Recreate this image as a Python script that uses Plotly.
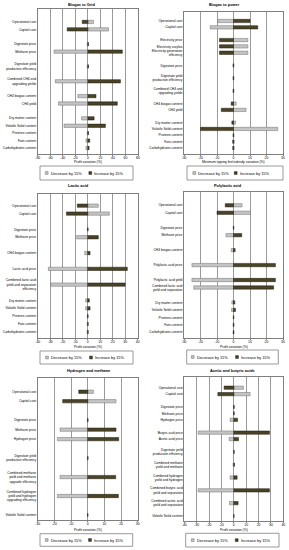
import plotly.graph_objects as go

W, H = 289, 550
FONT = "Arial, Liberation Sans, sans-serif"

# ---------------- data ----------------
GRID_CATS = ["Operational cost", "Capital cost", None, "Digestate price", "Methane price", None,
             "Digestate yield<br>production efficiency", None, "Combined CH4 and<br>upgrading yields", None,
             "CH4 biogas content", "CH4 yield", None, "Dry matter content", "Volatile Solid content",
             "Proteins content", "Fats content", "Carbohydrates content"]
GRID_DEC = [9, 33, None, -1, -54, None, -1, None, -52, None, -16, -47, None, -10, -38, -1, -3, -3]
GRID_INC = [-9, -33, None, 1, 55, None, 1, None, 52, None, 13, 47, None, 10, 28, 1, 3, 2]
GRID_TICKS = [-80, -60, -40, -20, 0, 20, 40, 60, 80]

POWER_CATS = ["Operational cost", "Capital cost", None, "Electricity price", "Electricity surplus",
              "Electricity generation<br>efficiency", None, "Digestate price", None,
              "Digestate yield<br>production efficiency", None, "Combined CH4 and<br>upgrading yields", None,
              "CH4 biogas content", "CH4 yield", None, "Dry matter content", "Volatile Solid content",
              "Proteins content", "Fats content", "Carbohydrates content"]
POWER_DEC = [-9.5, -14.1, None, 8.7, 8.7, 8.7, None, 0.3, None, 0.3, None, 0.3, None,
             1.6, 7.6, None, 1.2, 26.8, 0.3, 0.5, 0.5]
POWER_INC = [10, 14.7, None, -8.5, -8.5, -8.5, None, -0.3, None, -0.3, None, -0.3, None,
             -1.4, -7.4, None, -1.0, -20, -0.3, -0.5, -0.5]
POWER_TICKS = [-30, -20, -10, 0, 10, 20, 30]

LACTIC_CATS = ["Operational cost", "Capital cost", None, "Digestate price", "Methane price", None,
               "CH4 biogas content", None, "Lactic acid price", None,
               "Combined lactic acid<br>yield and separation<br>efficiency", None, "Dry matter content",
               "Volatile Solid content", "Proteins content", "Fats content", "Carbohydrates content"]
LACTIC_DEC = [8.5, 17.3, None, -0.3, -8.8, None, -2.4, None, -31.5, None, -29.6, None,
              -1.6, -1.6, -0.3, -0.4, -0.4]
LACTIC_INC = [-8.3, -17, None, 0.3, 8.5, None, 1.9, None, 31.7, None, 29.9, None,
              1.3, 1.9, 0.3, 0.4, 0.4]
LACTIC_TICKS = [-40, -30, -20, -10, 0, 10, 20, 30, 40]

PLA_CATS = ["Operational cost", "Capital cost", None, "Digestate price", "Methane price", None,
            "CH4 biogas content", None, "Polylactic acid price", None, "Polylactic acid yield",
            "Combined lactic acid<br>yield and separation", None, "Dry matter content",
            "Volatile Solid content", "Proteins content", "Fats content", "Carbohydrates content"]
PLA_DEC = [5.2, 10.3, None, -0.2, -4.6, None, -1.4, None, -25.2, None, -25.2, -24.1, None,
           -1.0, -1.2, -0.2, -0.3, -0.3]
PLA_INC = [-5, -10, None, 0.2, 5, None, 1.0, None, 25.4, None, 25.4, 24.3, None,
           0.8, 1.2, 0.2, 0.3, 0.3]
PLA_TICKS = [-30, -20, -10, 0, 10, 20, 30]

H2_CATS = ["Operational cost", "Capital cost", None, "Digestate price", "Methane price", "Hydrogen price", None,
           "Digestate yield<br>production efficiency", None,
           "Combined methane<br>yield and methane<br>upgrade efficiency", None,
           "Combined hydrogen<br>yield and hydrogen<br>upgrading efficiency", None, "Volatile Solid content"]
H2_DEC = [3.4, 17, None, -0.2, -16.6, -18.2, None, -0.2, None, -16.6, None, -18.2, None, 0]
H2_INC = [-5.4, -15, None, 0.2, 17, 18.6, None, 0.2, None, 16.8, None, 18.4, None, 0]
H2_TICKS = [-30, -20, -10, 0, 10, 20, 30]

AB_CATS = ["Operational cost", "Capital cost", None, "Digestate price", "Methane price", "Hydrogen price", None,
           "Butyric acid price", "Acetic acid price", None, "Digestate yield<br>production efficiency", None,
           "Combined methane<br>yield and methane", None, "Combined hydrogen<br>yield and hydrogen", None,
           "Combined butyric acid<br>yield and separation", None,
           "Combined acetic acid<br>yield and separation", None, "Volatile Solid content"]
AB_DEC = [7.8, 13.2, None, -0.3, -0.3, -3, None, -28.8, -3.8, None, -0.3, None, -0.6, None,
          -3, None, -28.8, None, -3.5, None, 0]
AB_INC = [-7.8, -12.9, None, 0.3, 0.3, 3, None, 28.8, 3.8, None, 0.3, None, 0.6, None,
          2.7, None, 28.8, None, 3.5, None, 0]
AB_TICKS = [-40, -30, -20, -10, 0, 10, 20, 30, 40]

TITLES = ["Biogas to Grid", "Biogas to power", "Lactic acid", "Polylactic acid",
          "Hydrogen and methane", "Acetic and butyric acids"]
X_TITLES = ["Profit variation (%)", "Minimum tipping fee/subsidy variation (%)", "Profit variation (%)",
            "Profit variation (%)", "Profit variation (%)", "Profit variation (%)"]
LEGEND_NAMES = ["Decrease by 15%", "Increase by 15%"]

# ---------------- style / layout ----------------
DEC_FILL, DEC_LINE = "#c4c4c4", "#6e6e6e"
INC_FILL, INC_LINE = "#4a4326", "#1c1a10"
GRID_COL = "#9a9a9a"
FRAME_COL = "#7f7f7f"

panels = [
    dict(cats=GRID_CATS, dec=GRID_DEC, inc=GRID_INC, ticks=GRID_TICKS,
         box=(37.7, 9, 138, 154), pad=(1.75, 0.81), tpos=(81, 4), xt=162.5,
         leg=(40, 166, 133, 180), sq=(46.7, 90.3)),
    dict(cats=POWER_CATS, dec=POWER_DEC, inc=POWER_INC, ticks=POWER_TICKS,
         box=(184, 11.7, 283, 154), pad=(1.46, 0.94), tpos=(224, 4), xt=162.5,
         leg=(187, 166, 283, 180), sq=(194.3, 235.7)),
    dict(cats=LACTIC_CATS, dec=LACTIC_DEC, inc=LACTIC_INC, ticks=LACTIC_TICKS,
         box=(37.7, 194, 137.7, 338), pad=(1.48, 0.76), tpos=(78, 186), xt=346.5,
         leg=(40, 351, 133, 364), sq=(47, 91)),
    dict(cats=PLA_CATS, dec=PLA_DEC, inc=PLA_INC, ticks=PLA_TICKS,
         box=(184, 192, 283, 338), pad=(1.78, 0.76), tpos=(228, 186), xt=346.5,
         leg=(186.7, 350, 278.3, 364), sq=(192.7, 237)),
    dict(cats=H2_CATS, dec=H2_DEC, inc=H2_INC, ticks=H2_TICKS,
         box=(37.7, 378, 137.7, 520), pad=(1.45, 0.53), tpos=(89, 370), xt=529.5,
         leg=(40, 533.7, 132.7, 546.3), sq=(46.7, 90)),
    dict(cats=AB_CATS, dec=AB_DEC, inc=AB_INC, ticks=AB_TICKS,
         box=(184.3, 377, 283.3, 521), pad=(1.67, 0.78), tpos=(232, 370), xt=529.5,
         leg=(185.7, 533.3, 279, 547), sq=(192.7, 236.7)),
]

def px(x):
    return x / W

def py(y):
    return 1 - y / H

fig = go.Figure()
layout = dict(width=W, height=H, margin=dict(l=0, r=0, t=0, b=0), autosize=False,
              paper_bgcolor="white", plot_bgcolor="white", showlegend=False,
              barmode="overlay", font=dict(family=FONT, color="black"))
annotations, shapes = [], []

for i, p in enumerate(panels):
    k = "" if i == 0 else str(i + 1)
    names = [c if c is not None else f"_gap{j}" for j, c in enumerate(p["cats"])]
    n = len(names)
    x0, y0, x1, y1 = p["box"]
    ptop, pbot = p["pad"]
    spacing = (y1 - y0) / (n - 1 + ptop + pbot)
    bw = 3.3 / spacing
    for vals, nm, fill, line in ((p["dec"], LEGEND_NAMES[0], DEC_FILL, DEC_LINE),
                                 (p["inc"], LEGEND_NAMES[1], INC_FILL, INC_LINE)):
        ys = [names[j] for j, v in enumerate(vals) if v is not None]
        xs = [v for v in vals if v is not None]
        fig.add_trace(go.Bar(x=xs, y=ys, orientation="h", name=nm, width=bw,
                             marker=dict(color=fill, line=dict(color=line, width=0.5)),
                             xaxis="x" + k, yaxis="y" + k, hoverinfo="x+y"))
    t = p["ticks"]
    layout["xaxis" + k] = dict(domain=[px(x0), px(x1)], anchor="y" + k, range=[t[0], t[-1]],
                               tickmode="array", tickvals=t, ticktext=[str(v) for v in t],
                               tickfont=dict(size=3.4, family=FONT), ticks="outside", ticklen=1.5,
                               tickwidth=0.5, tickcolor=FRAME_COL, ticklabelstandoff=-1,
                               showgrid=True, gridcolor=GRID_COL, gridwidth=0.6,
                               zeroline=False, showline=True, linecolor=FRAME_COL,
                               linewidth=0.8, mirror=True, fixedrange=True, automargin=False)
    layout["yaxis" + k] = dict(domain=[py(y1), py(y0)], anchor="x" + k,
                               type="category", categoryorder="array", categoryarray=names,
                               range=[n - 1 + pbot, -ptop],
                               tickmode="array", tickvals=[c for c in p["cats"] if c is not None],
                               ticktext=[c for c in p["cats"] if c is not None],
                               tickfont=dict(size=3.3, family=FONT), ticks="",
                               showgrid=False, zeroline=False, showline=True, linecolor=FRAME_COL,
                               linewidth=0.8, mirror=True, fixedrange=True, automargin=False)
    tx, ty = p["tpos"]
    annotations.append(dict(text="<b>" + TITLES[i] + "</b>", x=px(tx), y=py(ty), xref="paper",
                            yref="paper", showarrow=False, xanchor="center", yanchor="middle",
                            font=dict(size=3.9, family=FONT)))
    annotations.append(dict(text=X_TITLES[i], x=px((x0 + x1) / 2), y=py(p["xt"]), xref="paper",
                            yref="paper", showarrow=False, xanchor="center", yanchor="middle",
                            font=dict(size=3.4, family=FONT)))
    lx0, ly0, lx1, ly1 = p["leg"]
    shapes.append(dict(type="rect", xref="paper", yref="paper", x0=px(lx0), x1=px(lx1),
                       y0=py(ly1), y1=py(ly0), line=dict(color="#808080", width=0.8),
                       fillcolor="white", layer="below"))
    cy = (ly0 + ly1) / 2
    for sx, nm, fill, line in ((p["sq"][0], LEGEND_NAMES[0], DEC_FILL, DEC_LINE),
                               (p["sq"][1], LEGEND_NAMES[1], INC_FILL, INC_LINE)):
        shapes.append(dict(type="rect", xref="paper", yref="paper", x0=px(sx - 1.4), x1=px(sx + 1.4),
                           y0=py(cy + 1.4), y1=py(cy - 1.4), line=dict(color=line, width=0.5),
                           fillcolor=fill))
        annotations.append(dict(text=nm, x=px(sx + 2), y=py(cy), xref="paper", yref="paper",
                                showarrow=False, xanchor="left", yanchor="middle",
                                font=dict(size=3.9, family=FONT)))

layout["annotations"] = annotations
layout["shapes"] = shapes
fig.update_layout(**layout)
fig.write_html("out.html", config={"displayModeBar": False},
               post_script="document.body.style.margin='0';document.body.style.overflow='hidden';")
